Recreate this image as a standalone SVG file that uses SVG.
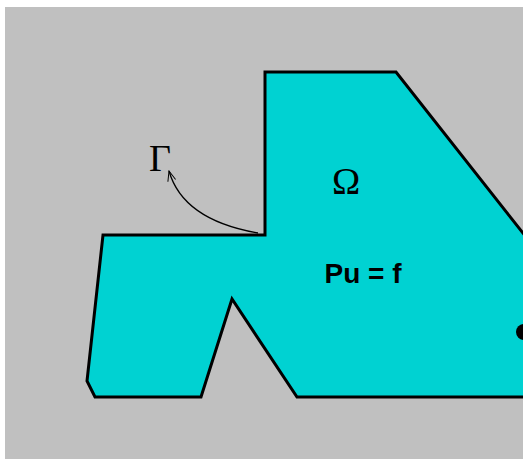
<svg xmlns="http://www.w3.org/2000/svg" width="523" height="459" viewBox="0 0 523 459">
  <style>
    .region { fill: #00d2d2; stroke: #000; stroke-width: 3; stroke-linejoin: miter; }
    .greek { font-family: "Liberation Serif", serif; font-size: 38px; fill: #000; }
    .eq { font-family: "Liberation Sans", sans-serif; font-weight: bold; font-size: 28px; fill: #000; }
    .conn { fill: none; stroke: #000; stroke-width: 1.3; }
  </style>
  <defs>
    <marker id="arr" markerWidth="12" markerHeight="10" refX="11" refY="5" orient="auto" markerUnits="userSpaceOnUse">
      <path d="M1,1 L11,5 L1,9" fill="none" stroke="#000" stroke-width="1"/>
    </marker>
  </defs>
  <rect x="5" y="7" width="530" height="460" fill="#c0c0c0"/>
  <g id="domain">
    <polygon class="region" points="265,72 396,72 530,242 530,397 297,397 232,299 201,397 95,397 87,381 103,235 265,235"/>
    <circle cx="524" cy="332" r="8" fill="#000"/>
    <text class="greek" x="346" y="194" text-anchor="middle">Ω</text>
    <text class="eq" x="363" y="283" text-anchor="middle">Pu = f</text>
  </g>
  <g id="boundary-label">
    <text class="greek" x="160" y="171" text-anchor="middle" font-size="40">Γ</text>
  </g>
  <g id="connectors">
    <path class="conn" d="M258,233 Q183,220 169,171" marker-end="url(#arr)"/>
  </g>
</svg>
